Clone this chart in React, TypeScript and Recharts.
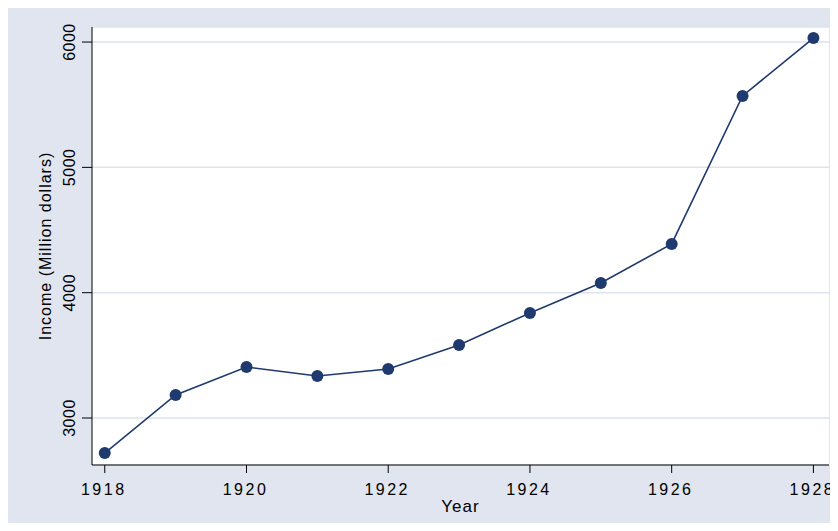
import { LineChart, Line, XAxis, YAxis, CartesianGrid } from 'recharts'

const years = [1918, 1919, 1920, 1921, 1922, 1923, 1924, 1925, 1926, 1927, 1928]
const income = [2720, 3184, 3407, 3335, 3391, 3583, 3838, 4077, 4389, 5570, 6032]
const xTicks = [1918, 1920, 1922, 1924, 1926, 1928]
const yTicks = [3000, 4000, 5000, 6000]

const data = years.map((y, i) => ({ year: y, income: income[i] }))

const FONT = 'Liberation Sans, Arial, sans-serif'
const NAVY = '#1E3A6E'

const YTick = ({ x, y, payload }: any) => (
  <text
    x={x - 5}
    y={y}
    transform={`rotate(-90, ${x - 5}, ${y})`}
    textAnchor="middle"
    fontSize={16}
    fontFamily={FONT}
    letterSpacing={0.5}
    fill="#000"
  >
    {payload.value}
  </text>
)

const XTick = ({ x, y, payload }: any) => (
  <text
    x={x - 1}
    y={y + 20}
    textAnchor="middle"
    fontSize={16}
    fontFamily={FONT}
    letterSpacing={2.5}
    fill="#000"
  >
    {payload.value}
  </text>
)

export default function App() {
  return (
    <div style={{ width: 830, height: 523, background: '#E0E5EF', marginBottom: -8 }}>
      <LineChart
        width={830}
        height={523}
        data={data}
        margin={{ top: 19, right: 9, bottom: 0, left: 0 }}
        style={{ overflow: 'visible' }}
      >
        <CartesianGrid
          vertical={false}
          horizontal
          stroke="#DDE3EE"
          strokeWidth={1.5}
          fill="#fff"
          fillOpacity={1}
        />
        <XAxis
          dataKey="year"
          type="number"
          domain={[1917.82, 1928.22]}
          ticks={xTicks}
          height={66}
          tickSize={8}
          stroke="#000"
          tick={<XTick />}
          label={{
            value: 'Year',
            position: 'insideBottom',
            offset: 19,
            style: { fontSize: 17, fontFamily: FONT, fill: '#000', letterSpacing: 1 },
          }}
        />
        <YAxis
          type="number"
          domain={[2625, 6120]}
          ticks={yTicks}
          width={84}
          tickSize={10}
          stroke="#000"
          tick={<YTick />}
          label={{
            value: 'Income (Million dollars)',
            angle: -90,
            position: 'insideLeft',
            offset: 37,
            style: { fontSize: 16, fontFamily: FONT, fill: '#000', textAnchor: 'middle', letterSpacing: 1 },
          }}
        />
        <Line
          dataKey="income"
          stroke={NAVY}
          strokeWidth={1.6}
          isAnimationActive={false}
          dot={{ r: 6, fill: NAVY, stroke: NAVY, strokeWidth: 0 }}
          activeDot={false}
        />
      </LineChart>
    </div>
  )
}
